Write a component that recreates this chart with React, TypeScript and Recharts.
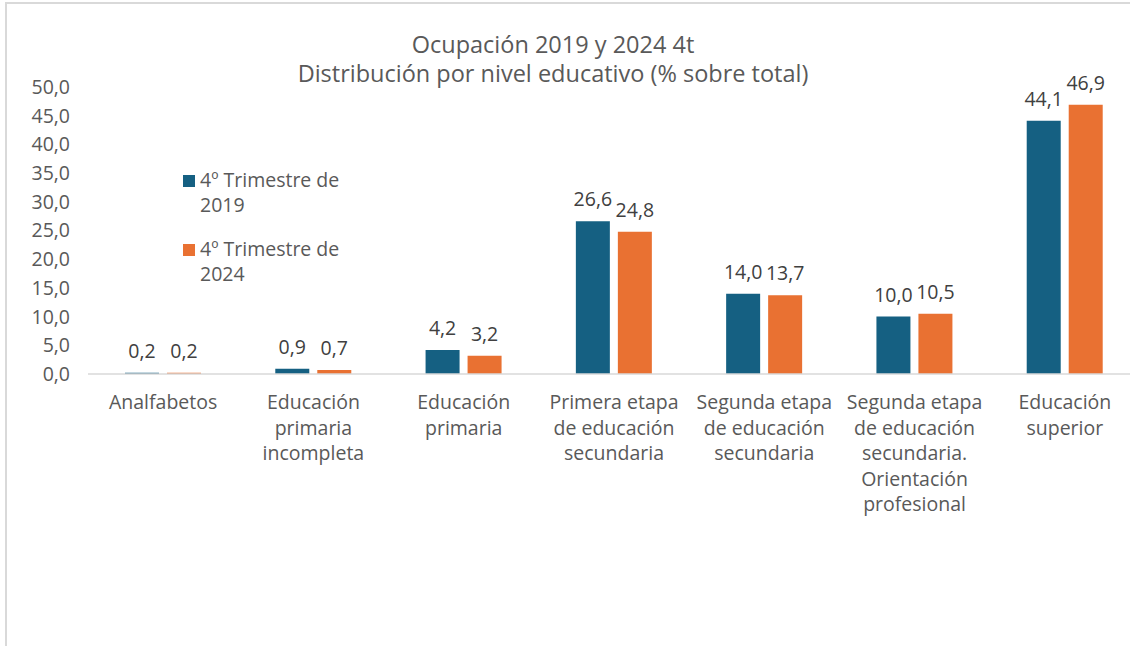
import { Bar, BarChart, LabelList, XAxis, YAxis } from "recharts";

const categories = [
  "Analfabetos",
  "Educación\nprimaria\nincompleta",
  "Educación\nprimaria",
  "Primera etapa\nde educación\nsecundaria",
  "Segunda etapa\nde educación\nsecundaria",
  "Segunda etapa\nde educación\nsecundaria.\nOrientación\nprofesional",
  "Educación\nsuperior",
];
const values2019 = [0.2, 0.9, 4.2, 26.6, 14.0, 10.0, 44.1];
const values2024 = [0.2, 0.7, 3.2, 24.8, 13.7, 10.5, 46.9];
const yTicks = [0, 5, 10, 15, 20, 25, 30, 35, 40, 45, 50];
const seriesNames = ["4º Trimestre de\n2019", "4º Trimestre de\n2024"];

const BLUE = "#156082";
const ORANGE = "#E97132";
const FONT = "'Open Sans', sans-serif";
const FS = 19.5;

const data = categories.map((c, i) => ({
  name: c,
  y2019: values2019[i],
  y2024: values2024[i],
}));

const fmt = (v: number) => v.toFixed(1).replace(".", ",");

function CategoryTick(props: any) {
  const { x, y, payload } = props;
  const lines = String(payload.value).split("\n");
  return (
    <text x={x} y={y + 27} textAnchor="middle" fill="#595959" fontSize={FS} fontFamily={FONT}>
      {lines.map((l, i) => (
        <tspan key={i} x={x} dy={i === 0 ? 0 : 25.5}>
          {l}
        </tspan>
      ))}
    </text>
  );
}

function LegendBox() {
  const colors = [BLUE, ORANGE];
  return (
    <div
      style={{
        position: "absolute",
        left: 183,
        top: 167,
        fontFamily: FONT,
        fontSize: FS,
        color: "#595959",
      }}
    >
      {seriesNames.map((n, i) => (
        <div key={i} style={{ display: "flex", alignItems: "flex-start", marginBottom: i === 0 ? 19 : 0 }}>
          <div style={{ width: 12, height: 12, background: colors[i], marginTop: 8, marginRight: 5 }} />
          <div style={{ lineHeight: "25px", whiteSpace: "pre" }}>{n}</div>
        </div>
      ))}
    </div>
  );
}

export default function App() {
  return (
    <div style={{ position: "fixed", left: 0, top: 0, width: 1130, height: 646, overflow: "hidden", background: "#fff" }}>
      <div
        style={{
          position: "absolute",
          left: 5,
          top: 2,
          width: 1200,
          height: 700,
          borderLeft: "2px solid #d9d9d9",
          borderTop: "2px solid #d9d9d9",
        }}
      />
      <div
        style={{
          position: "absolute",
          left: 0,
          top: 30,
          width: 1106,
          textAlign: "center",
          fontFamily: FONT,
          fontSize: 23.5,
          lineHeight: "29px",
          color: "#595959",
        }}
      >
        Ocupación 2019 y 2024 4t
        <br />
        Distribución por nivel educativo (% sobre total)
      </div>
      <BarChart
        width={1150}
        height={646}
        data={data}
        margin={{ top: 87, right: 10, bottom: 0, left: 0 }}
        barGap={8}
        barSize={34}
        style={{ position: "absolute", left: 0, top: 0 }}
      >
        <XAxis
          dataKey="name"
          interval={0}
          height={272}
          tickLine={false}
          axisLine={{ stroke: "#d9d9d9", strokeWidth: 1.5 }}
          tick={<CategoryTick />}
        />
        <YAxis
          width={88}
          domain={[0, 50]}
          ticks={yTicks}
          interval={0}
          tickLine={false}
          axisLine={false}
          tickMargin={12}
          tickFormatter={fmt}
          tick={{ fill: "#595959", fontSize: FS, fontFamily: FONT }}
        />
        <Bar dataKey="y2019" fill={BLUE} isAnimationActive={false}>
          <LabelList
            dataKey="y2019"
            position="top"
            offset={15}
            formatter={(v: any) => fmt(Number(v))}
            style={{ fill: "#404040", fontSize: FS, fontFamily: FONT }}
          />
        </Bar>
        <Bar dataKey="y2024" fill={ORANGE} isAnimationActive={false}>
          <LabelList
            dataKey="y2024"
            position="top"
            offset={15}
            formatter={(v: any) => fmt(Number(v))}
            style={{ fill: "#404040", fontSize: FS, fontFamily: FONT }}
          />
        </Bar>
      </BarChart>
      <LegendBox />
    </div>
  );
}
